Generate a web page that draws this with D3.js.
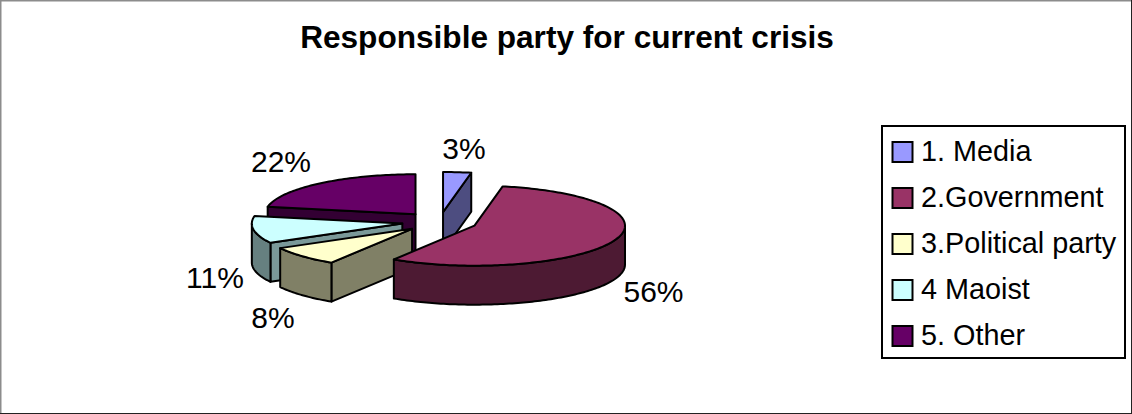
<!DOCTYPE html>
<html>
<head>
<meta charset="utf-8">
<script src="https://cdn.jsdelivr.net/npm/d3@7"></script>
<style>
  html, body { margin: 0; padding: 0; background: #fff; }
  svg { display: block; }
  text { font-family: "Liberation Sans", Arial, sans-serif; fill: #000; }
</style>
</head>
<body>
<svg id="chart" width="1132" height="414"></svg>
<script>
const title = "Responsible party for current crisis";
const categories = ["1. Media", "2.Government", "3.Political party", "4 Maoist", "5. Other"];
const shares = [3, 56, 8, 11, 22];
const topColors = ["#9999ff", "#993366", "#ffffcc", "#ccffff", "#660066"];
const wallColors = ["#4d4d80", "#4d1a33", "#808066", "#668080", "#330033"];
const radialColors = ["#4d4d80", "#4d1a33", "#808066", "#7a9999", "#330033"];
// Order in which the exploded slices are painted, back to front.
const paintOrder = [4, 0, 3, 2, 1];
const labelAnchors = [[464, 159], [653.5, 302], [273, 328], [215, 288], [281, 172]];

const svg = d3.select("#chart");
const W = 1132, H = 414;

// Window frame: light on the top and left, dark on the right and bottom.
const frame = svg.append("g");
frame.append("rect").attr("x", 0).attr("y", 0).attr("width", W).attr("height", 1.5).attr("fill", "#8c8c8c");
frame.append("rect").attr("x", 0).attr("y", 0).attr("width", 1.5).attr("height", H).attr("fill", "#8c8c8c");
frame.append("rect").attr("x", W - 1).attr("y", 0).attr("width", 1).attr("height", H).attr("fill", "#222");
frame.append("rect").attr("x", 0).attr("y", H - 1).attr("width", W).attr("height", 1).attr("fill", "#222");

svg.append("text")
  .attr("x", 567).attr("y", 48)
  .attr("text-anchor", "middle")
  .attr("font-size", 31.6).attr("font-weight", "bold")
  .text(title);

// Tilted pie: unit circle mapped onto an ellipse, thickness drawn straight down.
const cx = 439.5, cy = 222, rx = 150.5, ry = 40, depth = 39, explode = 0.25;
const sx = d3.scaleLinear().domain([-1, 1]).range([cx - rx, cx + rx]);
const sy = d3.scaleLinear().domain([-1, 1]).range([cy - ry, cy + ry]);

const arcs = d3.pie().sort(null).startAngle(0).endAngle(2 * Math.PI)(shares);
const line = d3.line().curve(d3.curveLinear);
const unit = a => [Math.sin(a), -Math.cos(a)];

function project(d, a, radius, drop) {
  const mid = (d.startAngle + d.endAngle) / 2;
  const [ex, ey] = unit(mid), [ux, uy] = unit(a);
  return [sx(ex * explode + ux * radius), sy(ey * explode + uy * radius) + drop];
}

function arcPoints(d, from, to, drop) {
  const n = Math.max(2, Math.ceil((to - from) / 0.02));
  return d3.range(n + 1).map(i => project(d, from + (to - from) * i / n, 1, drop));
}

const faceStyle = sel => sel.attr("stroke", "#000").attr("stroke-width", 2).attr("stroke-linejoin", "round");
const slices = svg.append("g");

paintOrder.forEach(i => {
  const d = arcs[i];
  const a = d.startAngle, b = d.endAngle;
  const g = slices.append("g");

  // Flat radial walls that face the viewer.
  const radial = (angle, visible) => {
    if (!visible) return;
    const apex = project(d, 0, 0, 0), rim = project(d, angle, 1, 0);
    const rimLow = project(d, angle, 1, depth), apexLow = project(d, 0, 0, depth);
    g.append("path").attr("d", line([apex, rim, rimLow, apexLow]) + "Z")
      .attr("fill", radialColors[i]).call(faceStyle);
  };
  radial(a, Math.cos(a - Math.PI / 2) < -1e-6);
  radial(b, Math.cos(b + Math.PI / 2) < -1e-6);

  // Curved outer wall, only on the front half of the ellipse.
  const from = Math.max(a, Math.PI / 2), to = Math.min(b, 3 * Math.PI / 2);
  if (to > from) {
    const upper = arcPoints(d, from, to, 0), lower = arcPoints(d, from, to, depth).reverse();
    g.append("path").attr("d", line(upper.concat(lower)) + "Z")
      .attr("fill", wallColors[i]).call(faceStyle);
  }

  // Top face.
  const top = [project(d, 0, 0, 0)].concat(arcPoints(d, a, b, 0));
  g.append("path").attr("d", line(top) + "Z")
    .attr("fill", topColors[i]).call(faceStyle);
});

// Percentage labels.
svg.append("g").selectAll("text").data(shares).join("text")
  .attr("x", (d, i) => labelAnchors[i][0])
  .attr("y", (d, i) => labelAnchors[i][1])
  .attr("text-anchor", "middle")
  .attr("font-size", 30)
  .text(d => d + "%");

// Legend.
const legend = svg.append("g");
legend.append("rect")
  .attr("x", 882).attr("y", 126).attr("width", 243).attr("height", 232)
  .attr("fill", "#fff").attr("stroke", "#000").attr("stroke-width", 2);
const rowY = d3.scalePoint().domain(categories).range([152, 336]);
const rows = legend.selectAll("g").data(categories).join("g")
  .attr("transform", d => `translate(0,${rowY(d)})`);
rows.append("rect")
  .attr("x", 892.5).attr("y", -10).attr("width", 20).attr("height", 20)
  .attr("fill", (d, i) => topColors[i]).attr("stroke", "#000").attr("stroke-width", 2);
rows.append("text")
  .attr("x", 921).attr("y", 9)
  .attr("font-size", 28.8)
  .text(d => d);
</script>
</body>
</html>
